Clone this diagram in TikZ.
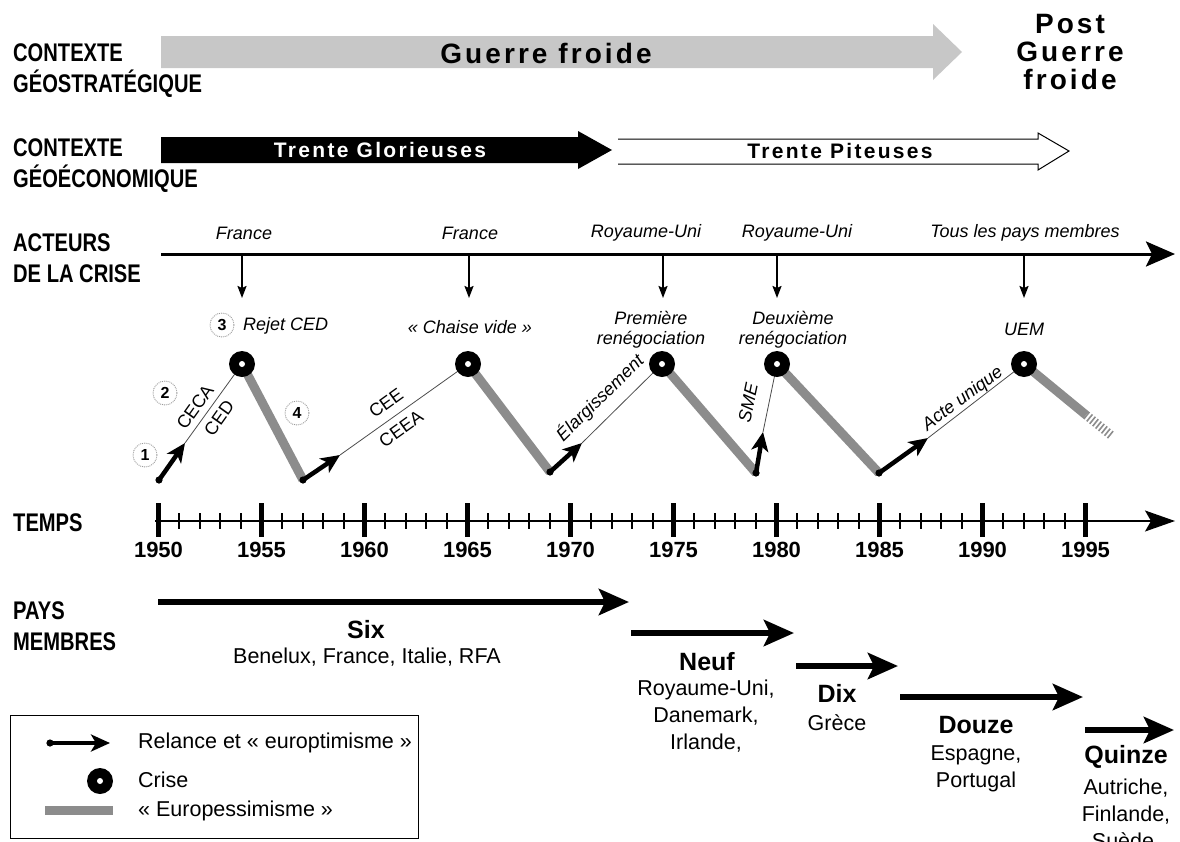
\documentclass[tikz,border=0pt]{standalone}
\usepackage{fontspec}
\setmainfont{Liberation Sans}
\newfontfamily\condf[FakeStretch=0.79]{Liberation Sans}
\newfontfamily\spacef[LetterSpace=11]{Liberation Sans}
\usetikzlibrary{arrows.meta,calc}
\tikzset{
  sidelab/.style={font=\condf\bfseries\fontsize{25.5}{31}\selectfont, align=left, anchor=north west, inner sep=0pt},
  band/.style={line width=9pt, draw=black!45},
  thinline/.style={line width=0.8pt, draw=black!70},
  relance/.style={line width=4.5pt, -{Stealth[length=19pt,width=17pt,inset=5pt]}},
  crisis/.style={circle, fill=black, minimum size=26pt, inner sep=0pt,
    path picture={\fill[white] (path picture bounding box.center) circle (3pt);}},
  num/.style={circle, draw=black!40, densely dotted, line width=0.9pt, minimum size=24pt, inner sep=0pt,
    font=\bfseries\fontsize{16}{16}\selectfont},
  itl/.style={font=\itshape\fontsize{18}{20}\selectfont, inner sep=0pt, align=center},
  upl/.style={font=\fontsize{18}{20}\selectfont, inner sep=0pt},
  actarrow/.style={line width=1.8pt, -{Stealth[length=12pt,width=9pt,inset=2pt]}},
  member/.style={line width=6pt, -{Stealth[length=30pt,width=26pt,inset=6pt]}},
  grouptitle/.style={font=\bfseries\fontsize{25}{26}\selectfont, inner sep=0pt},
  grouplist/.style={font=\fontsize{21.5}{27}\selectfont, align=center, inner sep=0pt, anchor=north},
  yearlab/.style={font=\bfseries\fontsize{22}{24}\selectfont, inner sep=0pt},
  bigsp/.style={font=\spacef\bfseries\fontsize{28}{28}\selectfont, inner sep=0pt, align=center},
  midsp/.style={font=\spacef\bfseries\fontsize{21}{22}\selectfont, inner sep=0pt},
  legtext/.style={font=\fontsize{21.5}{22}\selectfont, anchor=west, inner sep=0pt},
  dotmark/.style={fill=black},
}
\begin{document}
\begin{tikzpicture}[x=1pt,y=-1pt]
\useasboundingbox (0,0) rectangle (1180,841);
\clip (0,0) rectangle (1180,841);

% ---------- left labels ----------
\node[sidelab] (lgeo) at (13,43) {CONTEXTE\\GÉOSTRATÉGIQUE};
\node[sidelab] (leco) at (13,138) {CONTEXTE\\GÉOÉCONOMIQUE};
\node[sidelab] (lact) at (13,233) {ACTEURS\\DE LA CRISE};
\node[sidelab] (ltemps) at (13,513) {TEMPS};
\node[sidelab] (lpays) at (13,601) {PAYS\\MEMBRES};

% ---------- context arrows ----------
\fill[black!22] (161,36) -- (933,36) -- (933,24) -- (962,52) -- (933,80) -- (933,68) -- (161,68) -- cycle;
\node[bigsp] (gf) at (546,53) {Guerre froide};
\node[bigsp, anchor=north] (pgf) at (1070,14) {Post\\Guerre\\froide};

\fill[black] (161,137) -- (578,137) -- (578,131) -- (612,150) -- (578,169) -- (578,163) -- (161,163) -- cycle;
\node[midsp, text=white] (tg) at (380,150) {Trente Glorieuses};
\draw[line width=1pt, line join=miter] (618,139) -- (1038,139) -- (1038,133) -- (1069,151) -- (1038,170) -- (1038,164) -- (618,164);
\node[midsp] (tp) at (840,151) {Trente Piteuses};

% ---------- actors ----------
\coordinate (aL) at (161,254);
\coordinate (aR) at (1175,254);
\draw[line width=3pt, -{Stealth[length=29pt,width=25pt,inset=6pt]}] (aL) -- (aR);
\node[itl] (a1) at (244,233) {France};
\node[itl] (a2) at (470,233) {France};
\node[itl] (a3) at (646,233) {Royaume-Uni};
\node[itl] (a4) at (797,233) {Royaume-Uni};
\node[itl] (a5) at (1025,233) {Tous les pays membres};
\foreach \i/\xx in {1/242,2/469,3/663,4/777,5/1024}{
  \coordinate (as\i) at (\xx,256);
  \coordinate (ae\i) at (\xx,298);
  \draw[actarrow] (as\i) -- (ae\i);
}

% ---------- zigzag ----------
\coordinate (n1) at (242,364);
\coordinate (n2) at (468,364);
\coordinate (n3) at (662,364);
\coordinate (n4) at (777,364);
\coordinate (n5) at (1024,364);
\coordinate (d1) at (159,480);
\coordinate (b1) at (303,480);
\coordinate (b2) at (550,472);
\coordinate (b3) at (756,473);
\coordinate (b4) at (879,473);
\coordinate (t1) at (185,443);
\coordinate (t2) at (340,455);
\coordinate (t3) at (582,443);
\coordinate (t4) at (763,432);
\coordinate (t5) at (928,438);
\coordinate (e5) at (1086,415);
\coordinate (h5) at (1112,436);

\draw[band] (n1) -- (b1);
\draw[band] (n2) -- (b2);
\draw[band] (n3) -- (b3);
\draw[band] (n4) -- (b4);
\draw[band] (n5) -- (e5);
\draw[line width=9pt, draw=black!45, dash pattern=on 1.6pt off 2.2pt] (e5) -- (h5);

\draw[thinline] (t1) -- (n1);
\draw[thinline] (t2) -- (n2);
\draw[thinline] (t3) -- (n3);
\draw[thinline] (t4) -- (n4);
\draw[thinline] (t5) -- (n5);

\draw[relance] (d1) -- (t1);
\draw[relance] (b1) -- (t2);
\draw[relance] (b2) -- (t3);
\draw[relance] (b3) -- (t4);
\draw[relance] (b4) -- (t5);
\foreach \p in {d1,b1,b2,b3,b4}{ \fill[dotmark] (\p) circle (3.6); }

\node[crisis] (N1) at (n1) {};
\node[crisis] (N2) at (n2) {};
\node[crisis] (N3) at (n3) {};
\node[crisis] (N4) at (n4) {};
\node[crisis] (N5) at (n5) {};

% labels of crises
\node[num] (c3) at (222,325) {3};
\node[itl, anchor=west] (rej) at (243,326) {Rejet CED};
\node[itl] (chv) at (470,327) {«~Chaise vide~»};
\node[itl, anchor=south] (pre) at (651,348) {Première\\renégociation};
\node[itl, anchor=south] (deu) at (793,348) {Deuxième\\renégociation};
\node[itl] (uem) at (1024,329) {UEM};

% numbered circles
\node[num] (c1) at (145,455) {1};
\node[num] (c2) at (165,393) {2};
\node[num] (c4) at (297,413) {4};

% segment labels
\node[upl, rotate=54.5] (ceca) at (195,407) {CECA};
\node[upl, rotate=54.5] (ced) at (219,418) {CED};
\node[upl, rotate=35.7] (cee) at (386,403) {CEE};
\node[upl, rotate=35.7] (ceea) at (401,429) {CEEA};
\node[itl, rotate=44.5] (ela) at (600,398) {Élargissement};
\node[itl, rotate=78] (sme) at (748,403) {SME};
\node[itl, rotate=36.5] (acte) at (963,399) {Acte unique};

% ---------- timeline ----------
\coordinate (tl0) at (155,521);
\coordinate (tl1) at (1175,521);
\draw[line width=1.3pt, -{Stealth[length=30pt,width=21pt,inset=6pt]}] (tl0) -- (tl1);
\foreach \y in {0,...,45}{
  \pgfmathsetmacro\xx{158.5+20.6*\y}
  \pgfmathtruncatemacro\m{mod(\y,5)}
  \ifnum\m=0
    \draw[line width=5pt] (\xx,503) -- (\xx,537);
    \node[yearlab] (yr\y) at (\xx,550) {\the\numexpr1950+\y\relax};
  \else
    \draw[line width=2pt] (\xx,513) -- (\xx,529);
  \fi
}

% ---------- member states ----------
\coordinate (m0) at (158,602);  \coordinate (m1) at (629,602);
\coordinate (m2) at (631,633);  \coordinate (m3) at (794,633);
\coordinate (m4) at (796,666);  \coordinate (m5) at (898,666);
\coordinate (m6) at (900,697);  \coordinate (m7) at (1083,697);
\coordinate (m8) at (1085,730); \coordinate (m9) at (1174,730);
\draw[member] (m0) -- (m1);
\draw[member] (m2) -- (m3);
\draw[member] (m4) -- (m5);
\draw[member] (m6) -- (m7);
\draw[member] (m8) -- (m9);

\node[grouptitle] (six) at (366,630) {Six};
\node[grouplist] (sixl) at (367,648) {Benelux, France, Italie, RFA};
\node[grouptitle] (neuf) at (707,662) {Neuf};
\node[grouplist] (neufl) at (706,680) {Royaume-Uni,\\Danemark,\\Irlande,};
\node[grouptitle] (dix) at (837,693) {Dix};
\node[grouplist] (dixl) at (837,714) {Grèce};
\node[grouptitle] (douze) at (976,725) {Douze};
\node[grouplist] (douzel) at (976,745) {Espagne,\\Portugal};
\node[grouptitle] (quinze) at (1126,757) {Quinze};
\node[grouplist] (quinzel) at (1126,779) {Autriche,\\Finlande,\\Suède,};

% ---------- legend ----------
\node[draw, line width=1pt, minimum width=408pt, minimum height=123pt, inner sep=0pt, anchor=north west] (legbox) at (10,715) {};
\coordinate (la) at (50,743);
\coordinate (lb) at (110,743);
\draw[relance] (la) -- (lb);
\fill[dotmark] (la) circle (3.6);
\node[crisis] (lc) at (100,781) {};
\coordinate (lg0) at (45,810);
\coordinate (lg1) at (113,810);
\draw[band] (lg0) -- (lg1);
\node[legtext] (lt1) at (138,743) {Relance et «~europtimisme~»};
\node[legtext] (lt2) at (138,780) {Crise};
\node[legtext] (lt3) at (138,811) {«~Europessimisme~»};
\end{tikzpicture}
\end{document}
